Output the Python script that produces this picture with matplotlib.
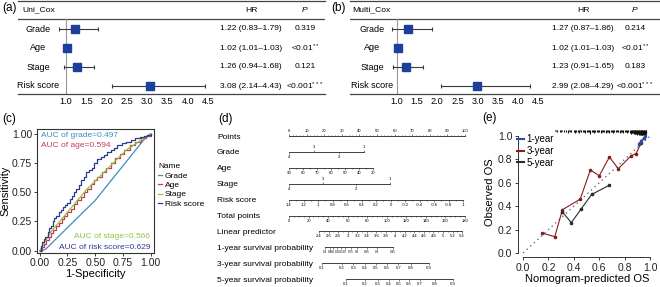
import matplotlib
matplotlib.use('Agg')
import matplotlib.pyplot as plt
from matplotlib.ticker import MultipleLocator
from matplotlib.lines import Line2D

plt.rcParams['font.family'] = ['Liberation Sans', 'DejaVu Sans']
plt.rcParams['mathtext.fontset'] = 'custom'
plt.rcParams['mathtext.rm'] = 'Liberation Sans'
plt.rcParams['mathtext.it'] = 'Liberation Sans:italic'

# ---------------- data ----------------
forest_vars = ['Grade', 'Age', 'Stage', 'Risk score']
forest_ticks = [1.0, 1.5, 2.0, 2.5, 3.0, 3.5, 4.0, 4.5]
uni_hr = [1.22, 1.02, 1.26, 3.08]
uni_lo = [0.83, 1.01, 0.94, 2.14]
uni_hi = [1.79, 1.03, 1.68, 4.43]
uni_p = ['0.319', '<0.01', '0.121', '<0.001']
uni_stars = ['', '**', '', '***']
multi_hr = [1.27, 1.02, 1.23, 2.99]
multi_lo = [0.87, 1.01, 0.91, 2.08]
multi_hi = [1.86, 1.03, 1.65, 4.29]
multi_p = ['0.214', '<0.01', '0.183', '<0.001']
multi_stars = ['', '**', '', '***']

roc_names = ['Grade', 'Age', 'Stage', 'Risk score']
roc_auc = [0.497, 0.594, 0.566, 0.629]
grade_fpr = [0.00, 0.05, 0.50, 0.94, 1.00]
grade_tpr = [0.00, 0.01, 0.43, 0.95, 1.00]
age_fpr = [0.00, 0.02, 0.04, 0.06, 0.08, 0.10, 0.12, 0.15, 0.17, 0.20, 0.22, 0.25, 0.28, 0.31, 0.34, 0.37,
           0.40, 0.43, 0.46, 0.49, 0.52, 0.56, 0.60, 0.64, 0.68, 0.72, 0.76, 0.81, 0.86, 0.91, 0.96, 1.00]
age_tpr = [0.00, 0.03, 0.06, 0.09, 0.12, 0.15, 0.18, 0.21, 0.24, 0.27, 0.30, 0.33, 0.36, 0.40, 0.43, 0.46,
           0.50, 0.53, 0.57, 0.60, 0.63, 0.67, 0.71, 0.75, 0.79, 0.83, 0.86, 0.90, 0.93, 0.96, 0.98, 1.00]
stage_fpr = [0.00, 0.10, 0.42, 0.78, 1.00]
stage_tpr = [0.00, 0.16, 0.52, 0.86, 1.00]
risk_fpr = [0.00, 0.01, 0.02, 0.04, 0.05, 0.07, 0.08, 0.10, 0.12, 0.13, 0.15, 0.17, 0.19, 0.21, 0.23, 0.25,
            0.27, 0.29, 0.31, 0.33, 0.35, 0.37, 0.40, 0.42, 0.44, 0.47, 0.49, 0.52, 0.55, 0.58, 0.61, 0.64,
            0.67, 0.70, 0.74, 0.78, 0.82, 0.86, 0.90, 0.94, 0.97, 1.00]
risk_tpr = [0.00, 0.04, 0.07, 0.10, 0.12, 0.16, 0.19, 0.21, 0.25, 0.28, 0.30, 0.33, 0.35, 0.37, 0.39, 0.41,
            0.44, 0.47, 0.50, 0.53, 0.56, 0.60, 0.63, 0.67, 0.69, 0.71, 0.75, 0.78, 0.80, 0.82, 0.84, 0.86,
            0.88, 0.90, 0.92, 0.93, 0.95, 0.96, 0.97, 0.98, 0.99, 1.00]

nomo_rows = ['Points', 'Grade', 'Age', 'Stage', 'Risk score', 'Total points', 'Linear predictor',
             '1-year survival probability', '3-year survival probability', '5-year survival probability']
points_ticks = [0, 10, 20, 30, 40, 50, 60, 70, 80, 90, 100]
grade_values = ['4', '3', '2', '1']
grade_points = [0, 14, 28.5, 42.5]
age_values = [90, 80, 70, 60, 50, 40, 30]
age_points_max = 48
stage_values = ['4', '3', '2', '1']
stage_points = [0, 19.3, 38, 57.4]
risk_ticks = [1.4, 1.2, 1.0, 0.8, 0.6, 0.4, 0.2, 0.0, -0.2, -0.4, -0.6, -0.8, -1.0]
total_ticks = [0, 20, 40, 60, 80, 100, 120, 140, 160, 180]
lp_ticks = [2.4, 2.6, 2.8, 3.0, 3.2, 3.4, 3.6, 3.8, 4.0, 4.2, 4.4, 4.6, 4.8, 5.0, 5.2, 5.4]
lp_total_span = [30.7, 177]
surv1_labels = ['0.3', '0.4', '0.5', '0.6', '0.65', '0.7', '0.75', '0.8', '0.85', '0.9', '0.95']
surv1_total = [36.8, 41.9, 45, 49.1, 53.2, 57.3, 63.4, 69.5, 79.8, 90, 106.3]
surv3_labels = ['0.1', '0.2', '0.3', '0.4', '0.5', '0.6', '0.7', '0.8', '0.9']
surv3_total = [33.4, 53.9, 65.8, 77.7, 88.7, 100, 111.8, 124.8, 143.2]
surv5_labels = ['0.1', '0.2', '0.3', '0.4', '0.5', '0.6', '0.7', '0.8', '0.9']
surv5_total = [58, 77.7, 91, 102.2, 112.5, 122.7, 134, 149.3, 167.7]

cal_1y_x = [0.91, 0.93, 0.95, 0.96]
cal_1y_y = [0.93, 0.96, 0.98, 1.00]
cal_3y_x = [0.15, 0.25, 0.31, 0.45, 0.53, 0.60, 0.68, 0.75, 0.85, 0.89, 0.93]
cal_3y_y = [0.17, 0.14, 0.37, 0.46, 0.71, 0.66, 0.82, 0.72, 0.83, 0.85, 0.94]
cal_5y_x = [0.31, 0.38, 0.46, 0.54, 0.68]
cal_5y_y = [0.35, 0.26, 0.38, 0.50, 0.58]
rug_x = [0.25, 0.26, 0.27, 0.29, 0.30, 0.31, 0.32, 0.34, 0.35, 0.36, 0.37, 0.38, 0.40, 0.41, 0.42, 0.43,
         0.44, 0.45, 0.46, 0.47, 0.48, 0.49, 0.50, 0.51, 0.52, 0.53, 0.54, 0.55, 0.56, 0.57, 0.58, 0.59,
         0.60, 0.61, 0.62, 0.63, 0.64, 0.65, 0.66, 0.67, 0.68, 0.69, 0.70, 0.71, 0.72, 0.73, 0.74, 0.75,
         0.76, 0.77, 0.78, 0.79, 0.80, 0.81, 0.82, 0.83, 0.84, 0.85, 0.855, 0.86, 0.865, 0.87, 0.875, 0.88,
         0.885, 0.89, 0.895, 0.90, 0.905, 0.91, 0.915, 0.92, 0.925, 0.93, 0.935, 0.94, 0.945, 0.95, 0.955,
         0.96, 0.965, 0.97]
rug_h = [0.010, 0.008, 0.015, 0.012, 0.020, 0.010, 0.014, 0.018, 0.025, 0.010, 0.012, 0.020, 0.016, 0.028,
         0.012, 0.014, 0.022, 0.010, 0.018, 0.012, 0.016, 0.026, 0.016, 0.012, 0.020, 0.030, 0.014, 0.018,
         0.022, 0.012, 0.018, 0.014, 0.012, 0.024, 0.016, 0.012, 0.020, 0.028, 0.014, 0.018, 0.022, 0.012,
         0.018, 0.026, 0.016, 0.014, 0.020, 0.012, 0.024, 0.018, 0.016, 0.022, 0.016, 0.020, 0.026, 0.020,
         0.024, 0.030, 0.024, 0.028, 0.026, 0.032, 0.026, 0.034, 0.030, 0.036, 0.032, 0.038, 0.034, 0.040,
         0.036, 0.042, 0.038, 0.040, 0.044, 0.040, 0.046, 0.042, 0.044, 0.040, 0.036, 0.030]

# ---------------- layout helpers ----------------
W, H = 660, 287
fig = plt.figure(figsize=(6.6, 2.87), dpi=100)
fig.patch.set_facecolor('white')


def fig_rect(x0, y0, x1, y1):
    return [x0 / W, 1 - y1 / H, (x1 - x0) / W, (y1 - y0) / H]


def panel_label(x, y, s):
    fig.text(x / W, 1 - y / H, s, fontsize=8.5, va='center', ha='left')


# ---------------- forest plots ----------------
def draw_forest(box, one_px, px_per_unit, title, hr, lo, hi, pvals, stars, cols):
    x0, y0, x1, y1 = box
    ax = fig.add_axes(fig_rect(x0, y0, x1, y1))
    ax.set_xlim(1.0 - (one_px - x0) / px_per_unit, 1.0 + (x1 - one_px) / px_per_unit)
    row_px, first_px = 19.0, 29.0
    ax.set_ylim((y1 - first_px) / row_px, (y0 - first_px) / row_px)
    head_y = (10 - first_px) / row_px
    rule_y = (19 - first_px) / row_px
    for s in ['left', 'right']:
        ax.spines[s].set_visible(False)
    for s in ['top', 'bottom']:
        ax.spines[s].set_color('#444444')
        ax.spines[s].set_linewidth(0.9)
    ax.axhline(rule_y, color='#444444', lw=0.9)
    ax.plot([1, 1], [rule_y, ax.get_ylim()[0]], color='#999999', lw=0.8)
    rows = list(range(len(hr)))
    xerr = [[h - l for h, l in zip(hr, lo)], [u - h for h, u in zip(hr, hi)]]
    ax.errorbar(hr, rows, xerr=xerr, fmt='none', ecolor='#3a3a3a', elinewidth=0.8,
                capsize=1.6, capthick=0.8)
    ax.plot(hr, rows, 's', color='#1c3f9e', markersize=6, zorder=3)
    ax.set_yticks([])
    ax.set_xticks(forest_ticks)
    ax.set_xticklabels([f'{t:.1f}' for t in forest_ticks], fontsize=6.6)
    ax.tick_params(axis='x', length=0, pad=1.8)
    tr = ax.get_yaxis_transform()
    lab_x, hr_x, p_x, t_x = cols
    ax.text(t_x, head_y, title, transform=tr, fontsize=6.1, va='center', ha='left')
    ax.text(hr_x, head_y, 'HR', transform=tr, fontsize=6.1, va='center', ha='center')
    ax.text(p_x, head_y, 'P', transform=tr, fontsize=6.1, va='center', ha='center', style='italic')
    for r, name, h, l, u, p, st in zip(rows, forest_vars, hr, lo, hi, pvals, stars):
        ax.text(lab_x, r, name, transform=tr, fontsize=6.5, va='center', ha='center')
        ax.text(hr_x, r, f'{h:.2f} ({l:.2f}\u2013{u:.2f})', transform=tr, fontsize=6.0,
                va='center', ha='center')
        ptxt = p + ('$^{' + st + '}$' if st else '')
        ax.text(p_x, r, ptxt, transform=tr, fontsize=6.0, va='center', ha='center')
    return ax


draw_forest((18, 1, 325, 94), 66, 40.57, 'Uni_Cox', uni_hr, uni_lo, uni_hi, uni_p, uni_stars,
            (0.065, 0.759, 0.935, 0.013))
draw_forest((350, 1, 660, 94), 397, 40.3, 'Multi_Cox', multi_hr, multi_lo, multi_hi, multi_p,
            multi_stars, (0.071, 0.752, 0.919, 0.006))
panel_label(2, 8, '(a)')
panel_label(331, 8, '(b)')

# ---------------- ROC panel (c) ----------------
roc_colors = ['#3b8fc0', '#c9395a', '#8dc63f', '#2e3990']
axc = fig.add_axes(fig_rect(37, 129, 154, 253))
roc_data = [(grade_fpr, grade_tpr, 'default'), (age_fpr, age_tpr, 'steps-post'),
            (stage_fpr, stage_tpr, 'default'), (risk_fpr, risk_tpr, 'steps-post')]
handles = []
for (fx, fy, ds), col, name in zip(roc_data, roc_colors, roc_names):
    ln, = axc.plot(fx, fy, color=col, lw=0.9, drawstyle=ds, label=name)
    handles.append(ln)
axc.set_xlim(-0.025, 1.03)
axc.set_ylim(-0.02, 1.04)
ticks_c = [0, 0.25, 0.5, 0.75, 1.0]
axc.set_xticks(ticks_c)
axc.set_yticks(ticks_c)
axc.set_xticklabels([f'{t:.2f}' for t in ticks_c], fontsize=7.5)
axc.set_yticklabels([f'{t:.2f}' for t in ticks_c], fontsize=7.5)
axc.tick_params(length=2, width=0.6, pad=1.5, colors='#222222')
for s in axc.spines.values():
    s.set_color('#333333')
    s.set_linewidth(0.8)
axc.set_xlabel('1-Specificity', fontsize=8, labelpad=1)
axc.set_ylabel('Sensitivity', fontsize=8, labelpad=1)
auc_txt = [f'AUC of {n.lower()}={a:.3f}' for n, a in zip(roc_names, roc_auc)]
axc.text(0.03, 0.945, auc_txt[0], transform=axc.transAxes, color=roc_colors[0], fontsize=6, va='center')
axc.text(0.03, 0.865, auc_txt[1], transform=axc.transAxes, color=roc_colors[1], fontsize=6, va='center')
axc.text(0.97, 0.135, auc_txt[2], transform=axc.transAxes, color=roc_colors[2], fontsize=6,
         va='center', ha='right')
axc.text(0.97, 0.048, auc_txt[3], transform=axc.transAxes, color=roc_colors[3], fontsize=6,
         va='center', ha='right')
fig.legend(handles, roc_names, loc='upper left', bbox_to_anchor=(158 / W, 1 - 163 / H), frameon=False,
           fontsize=6, title='Name', title_fontsize=6, handlelength=0.5, handletextpad=0.3,
           labelspacing=0.2, alignment='left', borderaxespad=0, borderpad=0)
panel_label(2, 119, '(c)')

# ---------------- nomogram (d) ----------------
PT0, PT_PX = 289, 1.76          # 0 points at x px, px per point
TOT_PX = 176 / 180               # px per total point


def pts_px(p):
    return PT0 + p * PT_PX


def tot_px(t):
    return PT0 + t * TOT_PX


nomo_line_px = [136, 152, 168, 184, 200, 216, 231, 247, 263, 279]


def nomo_axis(y_px, x0_px, x1_px, lim, labelsize=3):
    ax = fig.add_axes([x0_px / W, 1 - y_px / H, (x1_px - x0_px) / W, 0.0004])
    ax.set_xlim(*lim)
    ax.set_yticks([])
    ax.patch.set_visible(False)
    for s in ['top', 'left', 'right']:
        ax.spines[s].set_visible(False)
    ax.spines['bottom'].set_linewidth(0.6)
    ax.spines['bottom'].set_color('#222222')
    ax.tick_params(axis='x', which='both', labelsize=labelsize, pad=0.6, width=0.4, color='#222222')
    ax.tick_params(axis='x', which='major', length=1.6)
    ax.tick_params(axis='x', which='minor', length=1.0)
    return ax


def fmt(v):
    return f'{v:g}'


for name, y in zip(nomo_rows, nomo_line_px):
    fig.text(217 / W, 1 - (y + 1) / H, name, fontsize=6, va='center', ha='left')

# Points
ax = nomo_axis(nomo_line_px[0], pts_px(0), pts_px(100), (0, 100))
ax.set_xticks(points_ticks, labels=[fmt(v) for v in points_ticks])
ax.xaxis.set_minor_locator(MultipleLocator(2))
ax.tick_params(axis='x', which='both', top=True, bottom=False, labeltop=True, labelbottom=False)


def categorical_row(y, values, pts):
    ax = nomo_axis(y, pts_px(0), pts_px(max(pts)), (0, max(pts)))
    ax.set_xticks(pts[0::2], labels=values[0::2])
    ax.set_xticks(pts[1::2], labels=values[1::2], minor=True)
    ax.tick_params(axis='x', which='minor', top=True, bottom=False, labeltop=True,
                   labelbottom=False, length=1.6)


categorical_row(nomo_line_px[1], grade_values, grade_points)
# Age
ax = nomo_axis(nomo_line_px[2], pts_px(0), pts_px(age_points_max), (age_values[0], age_values[-1]))
ax.set_xticks(age_values, labels=[fmt(v) for v in age_values])
ax.xaxis.set_minor_locator(MultipleLocator(5))
categorical_row(nomo_line_px[3], stage_values, stage_points)
# Risk score
ax = nomo_axis(nomo_line_px[4], pts_px(0), pts_px(99), (risk_ticks[0], risk_ticks[-1]))
ax.set_xticks(risk_ticks, labels=[fmt(round(v, 1)) for v in risk_ticks])
ax.xaxis.set_minor_locator(MultipleLocator(0.1))
# Total points
ax = nomo_axis(nomo_line_px[5], tot_px(0), tot_px(180), (0, 180))
ax.set_xticks(total_ticks, labels=[fmt(v) for v in total_ticks])
ax.xaxis.set_minor_locator(MultipleLocator(5))
# Linear predictor
ax = nomo_axis(nomo_line_px[6], tot_px(lp_total_span[0]), tot_px(lp_total_span[1]),
               (lp_ticks[0], lp_ticks[-1]))
ax.set_xticks(lp_ticks, labels=[fmt(v) for v in lp_ticks])
ax.xaxis.set_minor_locator(MultipleLocator(0.1))
# survival rows
for y, labs, tots, ls in zip(nomo_line_px[7:], [surv1_labels, surv3_labels, surv5_labels],
                             [surv1_total, surv3_total, surv5_total], [2.2, 3, 3]):
    ax = nomo_axis(y, tot_px(tots[0]), tot_px(tots[-1]), (tots[0], tots[-1]), labelsize=ls)
    ax.set_xticks(tots, labels=labs)
panel_label(218, 119, '(d)')

# ---------------- calibration (e) ----------------
axe = fig.add_axes(fig_rect(518, 128, 656, 257))
axe.set_xlim(-0.04, 1.047)
axe.set_ylim(-0.034, 1.068)
axe.plot([0, 1], [0, 1], ls=(0, (1, 2.5)), color='#5b6f8f', lw=1.0)
axe.vlines(rug_x, [1.05 - h for h in rug_h], 1.05, color='#111111', lw=0.8)
axe.plot(cal_3y_x, cal_3y_y, '-o', color='#8a1c1c', lw=0.8, markersize=1.6)
axe.plot(cal_5y_x, cal_5y_y, '-o', color='#2a2a2a', lw=0.8, markersize=1.6)
axe.plot(cal_1y_x, cal_1y_y, '-x', color='#2a4bab', lw=1.0, markersize=2)
for s in ['top', 'right']:
    axe.spines[s].set_visible(False)
for s in ['left', 'bottom']:
    axe.spines[s].set_bounds(0, 1)
    axe.spines[s].set_linewidth(0.7)
    axe.spines[s].set_color('#333333')
ticks_e = [0, 0.2, 0.4, 0.6, 0.8, 1.0]
axe.set_xticks(ticks_e, labels=[f'{t:.1f}' for t in ticks_e], fontsize=7.5)
axe.set_yticks(ticks_e, labels=[f'{t:.1f}' for t in ticks_e], fontsize=7.5)
axe.tick_params(length=2.5, width=0.6, pad=1.5, colors='#222222')
axe.set_xlabel('Nomogram-predicted OS', fontsize=8, labelpad=1)
axe.set_ylabel('Observed OS', fontsize=8, labelpad=2)
leg_handles = [Line2D([], [], color='#2a4bab', lw=1.5), Line2D([], [], color='#8a1c1c', lw=1.5),
               Line2D([], [], color='#2a2a2a', lw=1.5)]
axe.legend(leg_handles, ['1-year', '3-year', '5-year'], loc='upper left',
           bbox_to_anchor=(517 / W, 1 - 134 / H), bbox_transform=fig.transFigure, frameon=False,
           fontsize=7, handlelength=0.7, handletextpad=0.3, labelspacing=0.2, borderaxespad=0,
           borderpad=0)
panel_label(482, 118, '(e)')

fig.savefig('out.png', dpi=100, facecolor='white')
